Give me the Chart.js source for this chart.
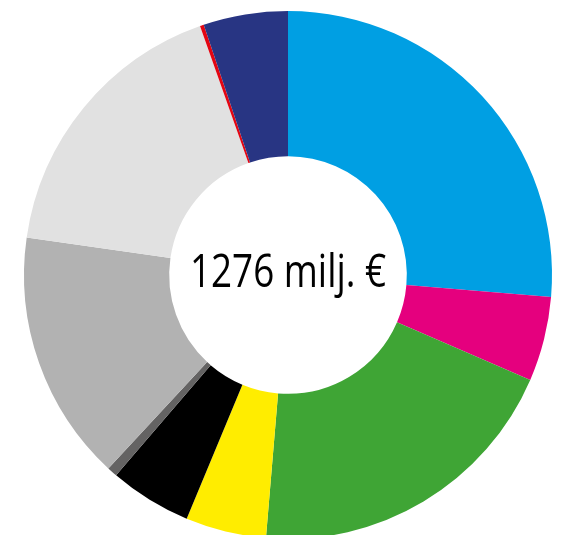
<!DOCTYPE html>
<html>
<head>
<meta charset="utf-8">
<script src="https://cdn.jsdelivr.net/npm/chart.js@4/dist/chart.umd.min.js"></script>
<style>
  html, body { margin: 0; padding: 0; background: #fff; overflow: hidden; }
  #wrap { position: absolute; left: 0; top: 0; width: 569px; height: 550px; }
</style>
</head>
<body>
<div id="wrap"><canvas id="chart-donut"></canvas></div>
<script>
const labels = ['A', 'B', 'C', 'D', 'E', 'F', 'G', 'H', 'I', 'J'];
const values = [336, 66, 253, 63, 64, 8, 196, 221, 3, 66];
const colors = ['#009FE3', '#E5007E', '#3FA535', '#FFED00', '#000000', '#646363', '#B2B2B2', '#E1E1E1', '#E30613', '#283583'];
const centerText = '1276 milj. €';

const centerLabel = {
    id: 'centerLabel',
    afterDraw(chart) {
        const ctx = chart.ctx;
        const a = chart.chartArea;
        const cx = (a.left + a.right) / 2;
        const cy = (a.top + a.bottom) / 2;
        ctx.save();
        ctx.font = '45px "Open Sans"';
        ctx.fillStyle = '#000';
        ctx.textAlign = 'center';
        ctx.textBaseline = 'alphabetic';
        // reference font is narrower than Open Sans, squeeze it a bit
        const w = ctx.measureText(centerText).width;
        const sx = 196 / w;
        ctx.translate(cx, cy + 12);
        ctx.scale(sx, 1);
        ctx.fillText(centerText, 0, 0);
        ctx.restore();
    }
};

const ctx = document.getElementById('chart-donut').getContext('2d');
new Chart(ctx, {
    type: 'doughnut',
    data: {
        labels: labels,
        datasets: [{
            data: values,
            backgroundColor: colors,
            borderWidth: 0
        }]
    },
    options: {
        responsive: true,
        maintainAspectRatio: false,
        animation: false,
        cutout: '45%',
        layout: { padding: { left: 24, right: 17, top: 11, bottom: 11 } },
        plugins: { legend: { display: false }, tooltip: { enabled: false } }
    },
    plugins: [centerLabel]
});
</script>
</body>
</html>
